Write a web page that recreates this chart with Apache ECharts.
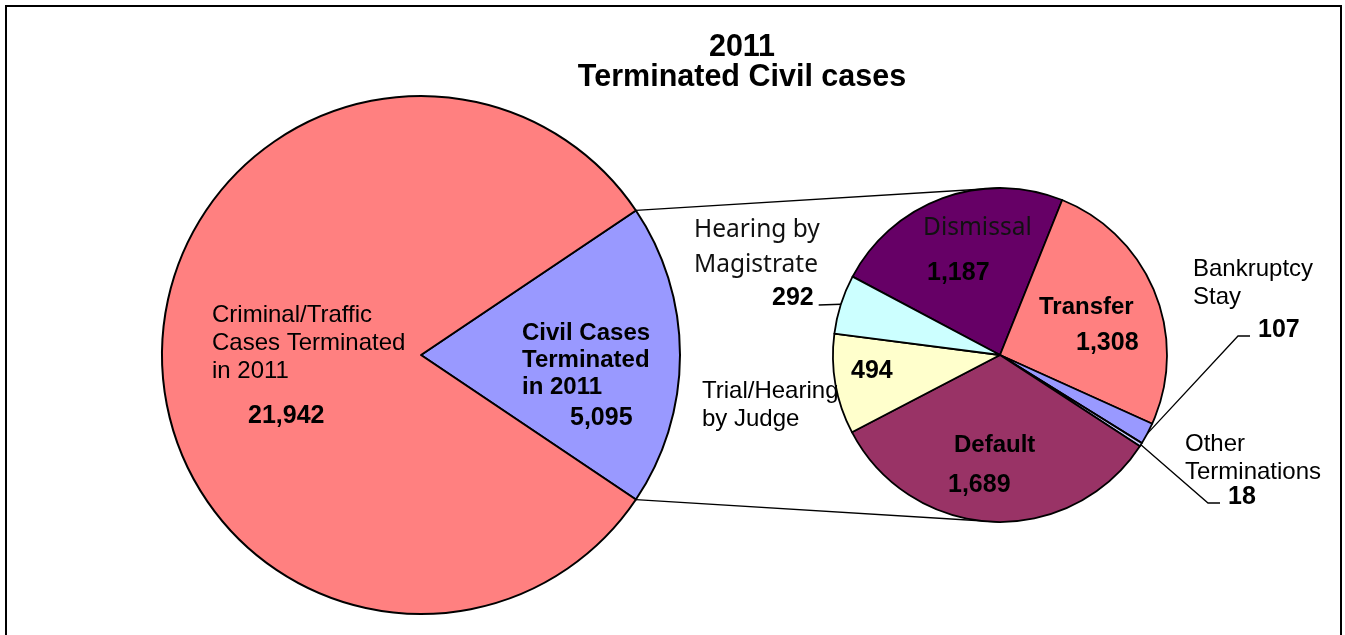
<!DOCTYPE html>
<html>
<head>
<meta charset="utf-8">
<title>2011 Terminated Civil cases</title>
<script src="https://cdn.jsdelivr.net/npm/echarts@6/dist/echarts.min.js"></script>
<style>
  html, body { margin: 0; padding: 0; background: #fff; }
  #main { width: 1345px; height: 635px; }
</style>
</head>
<body>
<div id="main"></div>
<script>
// first pie: every case terminated in 2011
var mainNames = ["Civil Cases Terminated in 2011", "Criminal/Traffic Cases Terminated in 2011"];
var mainLabels = ["Civil Cases\nTerminated\nin 2011", "Criminal/Traffic\nCases Terminated\nin 2011"];
var mainValues = [5095, 21942];

// second pie: how the civil cases ended
var civilNames = ["Dismissal", "Transfer", "Bankruptcy Stay", "Other Terminations", "Default", "Trial/Hearing by Judge", "Hearing by Magistrate"];
var civilLabels = ["Dismissal", "Transfer", "Bankruptcy\nStay", "Other\nTerminations", "Default", "Trial/Hearing\nby Judge", "Hearing by\nMagistrate"];
var civilValues = [1187, 1308, 107, 18, 1689, 494, 292];

var mainColors = ["#9999FF", "#FF8080"];
var civilColors = ["#660066", "#FF8080", "#9999FF", "#CCCCFF", "#993366", "#FFFFCC", "#CCFFFF"];

// geometry of the two pies (px)
var BIG = { cx: 421, cy: 355, r: 259 };
var SMALL = { cx: 1000, cy: 355, r: 167, start: 152 };

// label placement (px): left edge, and middle (or top for big pie)
var mainLabelPos = [[522, 320], [212, 301]];
var civilNamePos = [[923, 228], [1039, 307], [1193, 283], [1185, 458], [954, 445], [702, 405], [694, 248]];
var civilValuePos = [[927, 273], [1076, 343], [1258, 330], [1228, 497], [948, 485], [851, 371], [772, 298]];
var civilNameStyle = ["c", "b", "r", "r", "b", "r", "c"];
var leaderIdx = [2, 3, 6];

function fmt(v) { return v.toLocaleString("en-US"); }
function sum(a) { return a.reduce(function (s, v) { return s + v; }, 0); }
function wrap(style, text) {
  return text.split("\n").map(function (l) { return "{" + style + "|" + l + "}"; }).join("\n");
}
function civilEdge(i) {
  var before = sum(civilValues.slice(0, i));
  var a = (SMALL.start - (before + civilValues[i] / 2) / sum(civilValues) * 360) * Math.PI / 180;
  return [SMALL.cx + SMALL.r * Math.cos(a), SMALL.cy - SMALL.r * Math.sin(a)];
}

var half = mainValues[0] / sum(mainValues) * 180;
var ha = half * Math.PI / 180;
var bigTop = [BIG.cx + BIG.r * Math.cos(ha), BIG.cy - BIG.r * Math.sin(ha)];
var bigBot = [BIG.cx + BIG.r * Math.cos(ha), BIG.cy + BIG.r * Math.sin(ha)];

var ARIAL = "Liberation Sans, Arial, sans-serif";
var CALIBRI = "Noto Sans, sans-serif";

var myChart = echarts.init(document.getElementById("main"));
var option = {
  animation: false,
  title: {
    text: "2011\nTerminated Civil cases",
    left: 742,
    top: 33,
    padding: 0,
    textAlign: "center",
    textStyle: { fontFamily: ARIAL, fontWeight: "bold", fontSize: 30.5, lineHeight: 30, color: "#000" }
  },
  graphic: [
    { type: "rect", shape: { x: 6, y: 6, width: 1335, height: 650 }, style: { fill: null, stroke: "#000", lineWidth: 2 } },
    { type: "line", shape: { x1: bigTop[0], y1: bigTop[1], x2: SMALL.cx, y2: SMALL.cy - SMALL.r }, style: { stroke: "#000", lineWidth: 1.3 } },
    { type: "line", shape: { x1: bigBot[0], y1: bigBot[1], x2: SMALL.cx, y2: SMALL.cy + SMALL.r }, style: { stroke: "#000", lineWidth: 1.3 } }
  ],
  series: [
    {
      name: "2011",
      type: "pie",
      center: [BIG.cx, BIG.cy],
      radius: [0, BIG.r],
      startAngle: half,
      silent: true,
      avoidLabelOverlap: false,
      itemStyle: { borderColor: "#000", borderWidth: 2 },
      data: mainValues.map(function (v, i) {
        return { name: mainNames[i], value: v, itemStyle: { color: mainColors[i] } };
      }),
      label: {
        position: "inside",
        formatter: function (p) {
          var i = p.dataIndex;
          return i === 0
            ? wrap("cb", mainLabels[i]) + "\n{cn|" + fmt(p.value) + "}"
            : wrap("t", mainLabels[i]) + "\n{n|" + fmt(p.value) + "}";
        },
        rich: {
          t: { fontFamily: ARIAL, fontSize: 24, lineHeight: 28, color: "#000" },
          n: { fontFamily: ARIAL, fontSize: 25, fontWeight: "bold", lineHeight: 62, color: "#000", padding: [0, 0, 0, 36] },
          cb: { fontFamily: ARIAL, fontSize: 24, fontWeight: "bold", lineHeight: 27, color: "#000" },
          cn: { fontFamily: ARIAL, fontSize: 25, fontWeight: "bold", lineHeight: 35, color: "#000", padding: [0, 0, 0, 48] }
        }
      },
      labelLine: { show: false },
      labelLayout: function (p) {
        var pos = mainLabelPos[p.dataIndex];
        return { x: pos[0], y: pos[1], align: "left", verticalAlign: "top" };
      }
    },
    {
      name: "Civil values",
      type: "pie",
      center: [SMALL.cx, SMALL.cy],
      radius: [0, SMALL.r],
      startAngle: SMALL.start,
      silent: true,
      avoidLabelOverlap: false,
      itemStyle: { borderColor: "#000", borderWidth: 1.8 },
      data: civilValues.map(function (v, i) {
        return {
          name: civilNames[i], value: v,
          itemStyle: { color: civilColors[i] },
          labelLine: { show: leaderIdx.indexOf(i) >= 0 }
        };
      }),
      label: {
        position: "outside",
        formatter: function (p) { return fmt(p.value); },
        fontFamily: ARIAL, fontSize: 25, fontWeight: "bold", color: "#000"
      },
      labelLine: { lineStyle: { color: "#000", width: 1.3 } },
      labelLayout: function (p) {
        var i = p.dataIndex, pos = civilValuePos[i];
        var out = { x: pos[0], y: pos[1], align: "left", verticalAlign: "middle" };
        if (leaderIdx.indexOf(i) >= 0) {
          var s = civilEdge(i);
          if (i === 6) {
            out.labelLinePoints = [s, [pos[0] + p.labelRect.width + 5, pos[1] + 7]];
          } else {
            out.labelLinePoints = [s, [pos[0] - 20, pos[1] + 6], [pos[0] - 8, pos[1] + 6]];
          }
        }
        return out;
      }
    },
    {
      name: "Civil names",
      type: "pie",
      center: [SMALL.cx, SMALL.cy],
      radius: [0, SMALL.r],
      startAngle: SMALL.start,
      silent: true,
      avoidLabelOverlap: false,
      itemStyle: { color: "rgba(0,0,0,0)", borderWidth: 0 },
      data: civilValues.map(function (v, i) { return { name: civilNames[i], value: v }; }),
      label: {
        position: "inside",
        formatter: function (p) { return wrap(civilNameStyle[p.dataIndex], civilLabels[p.dataIndex]); },
        rich: {
          c: { fontFamily: CALIBRI, fontSize: 24.5, lineHeight: 35, color: "#111" },
          b: { fontFamily: ARIAL, fontSize: 24, fontWeight: "bold", lineHeight: 28, color: "#000" },
          r: { fontFamily: ARIAL, fontSize: 24, lineHeight: 28, color: "#000" }
        }
      },
      labelLine: { show: false },
      labelLayout: function (p) {
        var pos = civilNamePos[p.dataIndex];
        return { x: pos[0], y: pos[1], align: "left", verticalAlign: "middle" };
      }
    }
  ]
};
myChart.setOption(option);
</script>
</body>
</html>
